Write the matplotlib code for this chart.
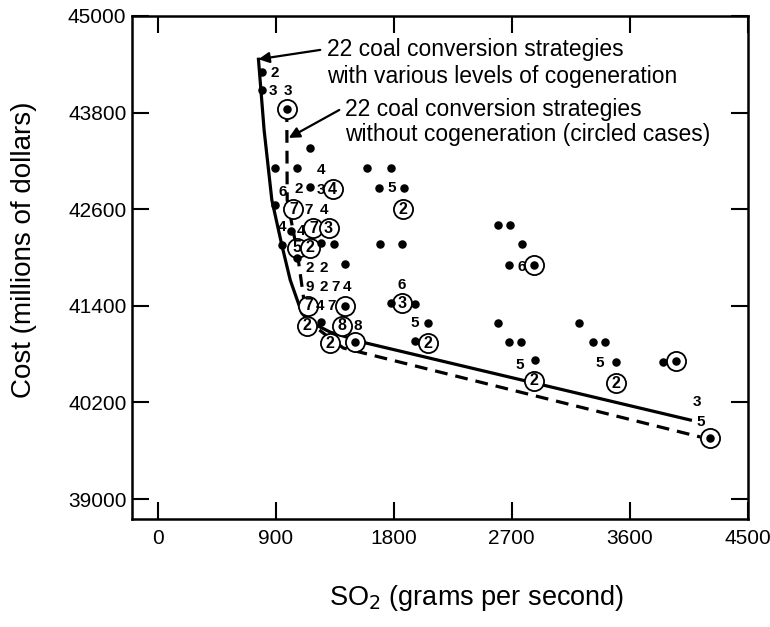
import matplotlib
matplotlib.use("Agg")
import matplotlib.pyplot as plt

plt.rcParams['font.family'] = ['Liberation Sans', 'DejaVu Sans']

# strategies with cogeneration (plain dots)
cogen_x = [795, 795, 1163, 896, 1066, 1600, 1779, 1163, 1684, 1880,
           896, 1016, 947, 1247, 1346, 1697, 1862, 1062, 1425, 1781,
           1959, 2058, 1247, 1959, 2592, 2689, 2778, 2681, 2592, 3215,
           2681, 2770, 2874, 3316, 3408, 3492, 3853]
cogen_y = [44308, 44081, 43357, 43112, 43108, 43108, 43116, 42880, 42860, 42867,
           42652, 42333, 42155, 42176, 42168, 42168, 42168, 41990, 41919, 41431,
           41422, 41183, 41203, 40963, 42404, 42404, 42164, 41907, 41190, 41190,
           40954, 40954, 40727, 40954, 40954, 40698, 40706]

# strategies without cogeneration (circled dots)
nocogen_x = [985, 2866, 1430, 1506, 3949, 4214]
nocogen_y = [43841, 41903, 41398, 40954, 40714, 39754]

# circled case numbers
circ_x = [1334, 1036, 1188, 1303, 1062, 1163, 1870, 1862, 1150, 1138, 1405, 1316, 2058, 2872, 3497]
circ_y = [42847, 42599, 42363, 42363, 42122, 42122, 42599, 41431, 41398, 41153, 41153, 40934, 40934, 40470, 40437]
circ_n = ['4', '7', '7', '3', '5', '2', '2', '3', '7', '2', '8', '2', '2', '2', '2']

# plain case numbers
lab_x = [896, 881, 995, 1247, 957, 1074, 1245, 1786, 1150, 1265, 947, 1094, 1163, 1265,
         1857, 2772, 1163, 1265, 1359, 1443, 1239, 1329, 1524, 1959, 2757, 3370, 4112, 4138]
lab_y = [44296, 44068, 44068, 43087, 42817, 42847, 42839, 42860, 42590, 42590, 42383, 42333, 41866, 41866,
         41658, 41882, 41637, 41637, 41637, 41637, 41398, 41398, 41153, 41183, 40667, 40693, 40201, 39960]
lab_t = ['2', '3', '3', '4', '6', '2', '3', '5', '7', '4', '4', '4', '2', '2',
         '6', '6', '9', '2', '7', '4', '4', '7', '8', '5', '5', '5', '3', '5']

# frontier curves
solid_x = [769, 812, 871, 947, 1011, 1100, 1163, 1316, 1598, 4061]
solid_y = [44462, 43584, 42714, 42155, 41721, 41307, 41199, 41073, 40934, 39981]
dash_x = [985, 988, 1062, 1112, 1138, 1252, 1415, 4138]
dash_y = [43841, 42714, 42093, 41510, 41224, 41075, 40876, 39770]

x_ticks = [0, 900, 1800, 2700, 3600, 4500]
y_ticks = [39000, 40200, 41400, 42600, 43800, 45000]

fig = plt.figure(figsize=(7.7, 6.27), dpi=100)
ax = fig.add_axes([0.1714, 0.172, 0.8, 0.8026])

ax.plot(solid_x, solid_y, color='black', lw=2.3, zorder=2)
ax.plot(dash_x, dash_y, color='black', lw=2.3, ls=(0, (4, 2.5)), zorder=2)

ax.scatter(cogen_x, cogen_y, s=26, color='black', zorder=4)
ax.scatter(nocogen_x, nocogen_y, s=190, facecolor='white', edgecolor='black', lw=1.3, zorder=3)
ax.scatter(nocogen_x, nocogen_y, s=26, color='black', zorder=4)
ax.scatter(circ_x, circ_y, s=190, facecolor='white', edgecolor='black', lw=1.3, zorder=3)
for x, y, t in zip(circ_x, circ_y, circ_n):
    ax.text(x, y, t, ha='center', va='center', fontsize=11.5, fontweight='bold', zorder=5)
for x, y, t in zip(lab_x, lab_y, lab_t):
    ax.text(x, y, t, ha='center', va='center', fontsize=11, fontweight='bold', zorder=5)

# annotations
arrow = dict(arrowstyle='-|>', color='black', lw=1.6, mutation_scale=16, shrinkA=0, shrinkB=0)
ax.annotate('', xy=(769, 44462), xytext=(1240, 44578), arrowprops=arrow)
ax.annotate('', xy=(1000, 43485), xytext=(1385, 43832), arrowprops=arrow)
ax.text(1293, 44578, '22 coal conversion strategies', fontsize=16.5, va='center')
ax.text(1293, 44242, 'with various levels of cogeneration', fontsize=16.5, va='center')
ax.text(1430, 43832, '22 coal conversion strategies', fontsize=16.5, va='center')
ax.text(1430, 43522, 'without cogeneration (circled cases)', fontsize=16.5, va='center')

ax.set_xlim(-195, 4500)
ax.set_ylim(38750, 45000)
ax.set_xticks(x_ticks)
ax.set_yticks(y_ticks)
ax.tick_params(direction='in', top=True, right=True, length=12, width=1.5, labelsize=15)
ax.tick_params(axis='x', pad=7)
ax.tick_params(axis='y', pad=4)
for sp in ax.spines.values():
    sp.set_linewidth(1.8)

fig.text(477 / 770, 1 - 598 / 627, 'SO$_2$ (grams per second)', fontsize=19.5, ha='center', va='center')
fig.text(24 / 770, 1 - 250 / 627, 'Cost (millions of dollars)', fontsize=20, rotation=90,
         ha='center', va='center')

fig.savefig('out.png', dpi=100)
